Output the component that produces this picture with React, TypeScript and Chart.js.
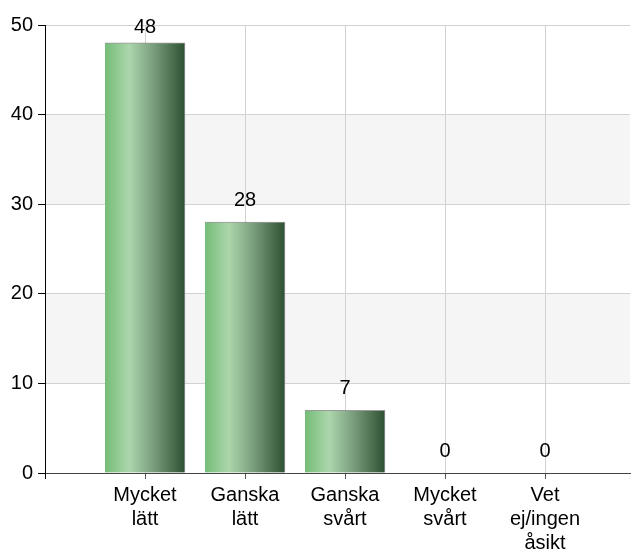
import React, { useEffect, useRef } from "react";
import { Chart, registerables } from "chart.js";

Chart.register(...registerables);

const categories: string[][] = [
  ["Mycket", "lätt"],
  ["Ganska", "lätt"],
  ["Ganska", "svårt"],
  ["Mycket", "svårt"],
  ["Vet", "ej/ingen", "åsikt"],
];
const values: number[] = [48, 28, 7, 0, 0];
const yTicks: number[] = [0, 10, 20, 30, 40, 50];
const shadedBands: [number, number][] = [
  [10, 20],
  [30, 40],
];

const FONT = "'Liberation Sans', Arial, sans-serif";

export default function App() {
  const ref = useRef<HTMLCanvasElement | null>(null);

  useEffect(() => {
    if (!ref.current) return;
    const bandPlugin = {
      id: "bands",
      beforeDraw(chart: any) {
        const { ctx, chartArea, scales } = chart;
        ctx.save();
        ctx.fillStyle = "#f5f5f5";
        for (const [a, b] of shadedBands) {
          const y1 = scales.y.getPixelForValue(b);
          const y2 = scales.y.getPixelForValue(a);
          ctx.fillRect(chartArea.left, y1, chartArea.right - chartArea.left, y2 - y1);
        }
        ctx.restore();
      },
    };
    const labelPlugin = {
      id: "vals",
      afterDatasetsDraw(chart: any) {
        const { ctx, chartArea } = chart;
        const meta = chart.getDatasetMeta(0);
        ctx.save();
        ctx.font = `20px ${FONT}`;
        ctx.fillStyle = "#000";
        ctx.textAlign = "center";
        ctx.textBaseline = "middle";
        meta.data.forEach((el: any, i: number) => {
          const y = Math.max(el.y - 22, chartArea.top + 2);
          ctx.fillText(String(values[i]), el.x, y);
        });
        ctx.restore();
      },
    };

    const chart = new Chart(ref.current, {
      type: "bar",
      data: {
        datasets: [
          {
            data: values.map((v, i) => ({ x: i, y: v })),
            barThickness: 80,
            borderWidth: { top: 1, right: 1, left: 0, bottom: 0 } as any,
            borderColor: "rgba(110,110,110,0.7)",
            backgroundColor: (c: any) => {
              const chart = c.chart;
              const xs = chart.scales?.x;
              if (!xs || c.dataIndex === undefined) return "#7dbf7f";
              const cx = xs.getPixelForValue(c.dataIndex);
              if (!isFinite(cx)) return "#7dbf7f";
              const g = chart.ctx.createLinearGradient(cx - 40, 0, cx + 40, 0);
              g.addColorStop(0, "#74bd77");
              g.addColorStop(0.3, "#acd6ac");
              g.addColorStop(0.6, "#7b9f7d");
              g.addColorStop(1, "#2c5031");
              return g;
            },
          },
        ],
      },
      options: {
        animation: false,
        responsive: false,
        maintainAspectRatio: false,
        layout: { padding: { top: 25, right: 5, left: 0, bottom: 0 } },
        plugins: { legend: { display: false }, tooltip: { enabled: false } },
        scales: {
          x: {
            type: "linear",
            offset: false,
            grace: 0,
            min: -1,
            max: 4.85,
            afterBuildTicks: (s: any) => {
              s.ticks = [-1, 0, 1, 2, 3, 4].map((v) => ({ value: v }));
            },
            afterFit: (s: any) => {
              s.height = 82;
            },
            ticks: {
              autoSkip: false,
              maxRotation: 0,
              padding: 4,
              color: "#000",
              font: { family: FONT, size: 20, lineHeight: 1.2 },
              callback: (v: any) => (v >= 0 && categories[v] ? categories[v] : ""),
            },
            grid: {
              offset: false,
              color: (c: any) => (c.tick && c.tick.value === -1 ? "rgba(0,0,0,0)" : "#d2d2d2"),
              tickColor: (c: any) => (c.tick && c.tick.value === -1 ? "#000" : "#555"),
              tickLength: 6,
              lineWidth: 1,
            },
            border: { color: "#444", width: 1 },
          },
          y: {
            min: 0,
            max: 50,
            afterBuildTicks: (s: any) => {
              s.ticks = yTicks.map((v) => ({ value: v }));
            },
            afterFit: (s: any) => {
              s.width = 45;
            },
            ticks: {
              padding: 5,
              color: "#000",
              font: { family: FONT, size: 20 },
            },
            grid: {
              color: (c: any) => (c.tick && c.tick.value === 0 ? "rgba(0,0,0,0)" : "#d2d2d2"),
              tickColor: "#000",
              tickLength: 7,
            },
            border: { color: "#000", width: 1 },
          },
        },
      },
      plugins: [bandPlugin, labelPlugin],
    });
    chart.update();
    return () => chart.destroy();
  }, []);

  return (
    <div style={{ position: "fixed", left: 0, top: 0, width: 635, height: 555, background: "#fff" }}>
      <canvas ref={ref} width={635} height={555} style={{ width: 635, height: 555 }} />
    </div>
  );
}
